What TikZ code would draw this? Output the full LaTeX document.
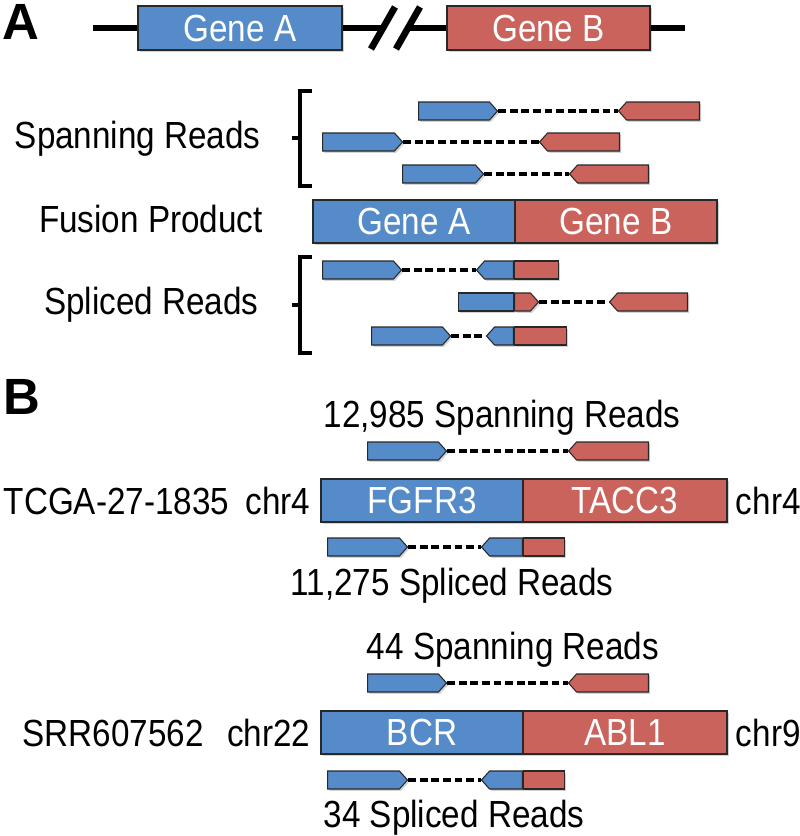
\documentclass[tikz,border=0pt]{standalone}
\usepackage{fontspec}
\setmainfont{Liberation Sans}
\newfontfamily\narrowsans[FakeStretch=0.88]{Liberation Sans}
\usepackage{tikz}
\usetikzlibrary{shapes.symbols,positioning,calc,shadows}
\definecolor{geneblue}{RGB}{84,139,200}
\definecolor{genered}{RGB}{203,99,93}
\definecolor{edge}{RGB}{40,40,40}
\newcommand{\pxu}{0.02cm}
\tikzstyle{soft} = [drop shadow={shadow xshift=1pt,shadow yshift=-1pt,opacity=0.35}]
\tikzstyle{gene} = [soft,draw=edge,line width=0.8pt,inner sep=0pt,minimum height=43*\pxu,text=white,font=\narrowsans\fontsize{21.5}{24}\selectfont]
\tikzstyle{readbase} = [soft,draw=edge,line width=0.6pt,inner sep=0pt,minimum height=18*\pxu]
\tikzstyle{bluetip} = [readbase,signal,signal to=east,signal pointer angle=96,fill=geneblue,anchor=west]
\tikzstyle{redtip} = [readbase,signal,signal to=west,signal pointer angle=96,fill=genered,anchor=east]
\tikzstyle{blueback} = [readbase,signal,signal to=west,signal pointer angle=96,fill=geneblue,anchor=east]
\tikzstyle{redfwd} = [readbase,signal,signal to=east,signal pointer angle=96,fill=genered,anchor=west]
\tikzstyle{bluebox} = [readbase,rectangle,fill=geneblue,anchor=east]
\tikzstyle{redbox} = [readbase,rectangle,fill=genered,anchor=west]
\tikzstyle{readgap} = [line width=2pt,dash pattern=on 4.4pt off 2.2pt]
\tikzstyle{backbone} = [line width=3.8pt]
\tikzstyle{bracket} = [line width=1.8pt]
\tikzstyle{lbl} = [inner sep=0pt,text height=15.5pt,text depth=0pt,font=\narrowsans\fontsize{21.5}{24}\selectfont]
\tikzstyle{panel} = [inner sep=0pt,font=\fontsize{29}{30}\selectfont\bfseries]

\begin{document}
\begin{tikzpicture}[x=0.02cm,y=-0.02cm]
    \useasboundingbox (0,0) rectangle (800,836);
    \node [panel] (pa) at (21,22) {A};
    \node [gene,fill=geneblue,minimum width=204*\pxu,minimum height=44*\pxu] (ga) at (240,28) {Gene A};
    \node [gene,fill=genered,minimum width=203*\pxu,minimum height=44*\pxu] (gb) at (548.5,28) {Gene B};
    \coordinate (bbl) at (93,28);
    \coordinate (bbr) at (685,28);
    \coordinate (brk1) at (383,28);
    \coordinate (brk2) at (408,28);
    \draw [backbone] (bbl) -- (ga.west);
    \draw [backbone] (ga.east) -- (brk1);
    \draw [backbone] (brk2) -- (gb.west);
    \draw [backbone] (gb.east) -- (bbr);
    \draw [backbone] ($(brk1)+(-12,21)$) -- ($(brk1)+(12,-21)$);
    \draw [backbone] ($(brk2)+(-12,21)$) -- ($(brk2)+(12,-21)$);

    \node [lbl,anchor=east] (spanlbl) at (261,135) {Spanning Reads};
    \draw [bracket] (312,91) -- (300,91) -- (300,186) -- (312,186);
    \draw [bracket] (300,138) -- (292,138);
    \node [bluetip,minimum width=79*\pxu] (sp1a) at (418,111) {};
    \node [redtip,minimum width=81*\pxu] (sp1b) at (700,111) {};
    \draw [readgap] (sp1a.east) -- (sp1b.west);
    \node [bluetip,minimum width=80*\pxu] (sp2a) at (322,142) {};
    \node [redtip,minimum width=80*\pxu] (sp2b) at (620,142) {};
    \draw [readgap] (sp2a.east) -- (sp2b.west);
    \node [bluetip,minimum width=81*\pxu] (sp3a) at (402,174) {};
    \node [redtip,minimum width=79*\pxu] (sp3b) at (649,174) {};
    \draw [readgap] (sp3a.east) -- (sp3b.west);

    \node [lbl,anchor=east] (fuslbl) at (263,218.5) {Fusion Product};
    \node [gene,fill=geneblue,minimum width=202*\pxu] (fa) at (414,221.5) {Gene A};
    \node [gene,fill=genered,minimum width=202*\pxu] (fb) at (616,221.5) {Gene B};

    \node [lbl,anchor=east] (spllbl) at (259,301) {Spliced Reads};
    \draw [bracket] (312,257) -- (300,257) -- (300,353) -- (312,353);
    \draw [bracket] (300,305) -- (292,305);
    \node [bluetip,minimum width=79*\pxu] (sl1a) at (322,270) {};
    \node [blueback,minimum width=37*\pxu] (sl1b) at (514,270) {};
    \node [redbox,minimum width=44*\pxu] (sl1c) at (514,270) {};
    \draw [readgap] (sl1a.east) -- (sl1b.west);
    \node [bluebox,minimum width=55*\pxu] (sl2a) at (514,302) {};
    \node [redfwd,minimum width=24*\pxu] (sl2b) at (514,302) {};
    \node [redtip,minimum width=78*\pxu] (sl2c) at (688,302) {};
    \draw [readgap] (sl2b.east) -- (sl2c.west);
    \node [bluetip,minimum width=79*\pxu] (sl3a) at (371,336) {};
    \node [blueback,minimum width=27*\pxu] (sl3b) at (514,336) {};
    \node [redbox,minimum width=52*\pxu] (sl3c) at (514,336) {};
    \draw [readgap] (sl3a.east) -- (sl3b.west);

    \node [panel] (pb) at (22,397) {B};
    \node [lbl] (cnt1) at (502,414) {12,985 Spanning Reads};
    \node [bluetip,minimum width=79*\pxu] (t1a) at (367,451) {};
    \node [redtip,minimum width=80*\pxu] (t1b) at (649,451) {};
    \draw [readgap] (t1a.east) -- (t1b.west);
    \node [gene,fill=geneblue,minimum width=202*\pxu,minimum height=43*\pxu] (fg) at (422,500.5) {FGFR3};
    \node [gene,fill=genered,minimum width=204*\pxu,minimum height=43*\pxu] (ta) at (625,500.5) {TACC3};
    \node [lbl,left=5.5pt of fg] (chra) {chr4};
    \node [lbl,left=9pt of chra] (tcga) {TCGA-27-1835};
    \node [lbl,right=4.5pt of ta] (chrb) {chr4};
    \node [bluetip,minimum width=80*\pxu] (t2a) at (327,547) {};
    \node [blueback,minimum width=41*\pxu] (t2b) at (523,547) {};
    \node [redbox,minimum width=41*\pxu] (t2c) at (523,547) {};
    \draw [readgap] (t2a.east) -- (t2b.west);
    \node [lbl] (cnt2) at (452,582) {11,275 Spliced Reads};

    \node [lbl] (cnt3) at (513,646) {44 Spanning Reads};
    \node [bluetip,minimum width=79*\pxu] (u1a) at (367,683) {};
    \node [redtip,minimum width=80*\pxu] (u1b) at (649,683) {};
    \draw [readgap] (u1a.east) -- (u1b.west);
    \node [gene,fill=geneblue,minimum width=202*\pxu,minimum height=43*\pxu] (bcr) at (422,732.5) {BCR};
    \node [gene,fill=genered,minimum width=204*\pxu,minimum height=43*\pxu] (abl) at (625,732.5) {ABL1};
    \node [lbl,left=5.5pt of bcr] (chrc) {chr22};
    \node [lbl,left=13pt of chrc] (srr) {SRR607562};
    \node [lbl,right=4.5pt of abl] (chrd) {chr9};
    \node [bluetip,minimum width=80*\pxu] (u2a) at (327,780) {};
    \node [blueback,minimum width=41*\pxu] (u2b) at (523,780) {};
    \node [redbox,minimum width=41*\pxu] (u2c) at (523,780) {};
    \draw [readgap] (u2a.east) -- (u2b.west);
    \node [lbl] (cnt4) at (454,814) {34 Spliced Reads};
\end{tikzpicture}
\end{document}
